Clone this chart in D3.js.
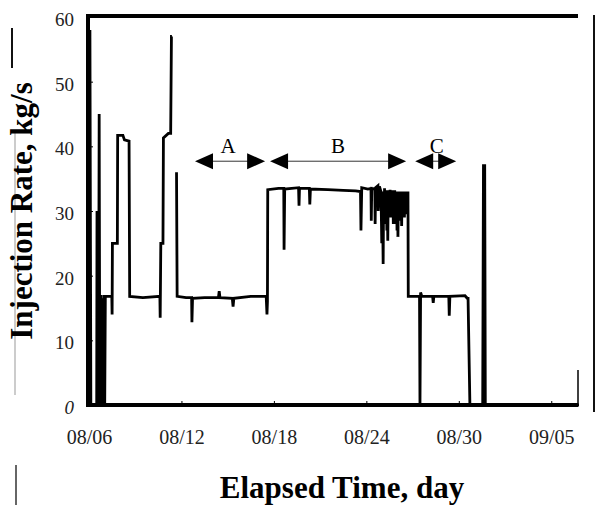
<!DOCTYPE html>
<html>
<head>
<meta charset="utf-8">
<script src="https://cdn.jsdelivr.net/npm/d3@7"></script>
<style>
  body { margin: 0; background: #fff; }
  svg text { font-family: "Liberation Serif", "Times New Roman", serif; }
</style>
</head>
<body>
<svg id="fig" width="595" height="505"></svg>
<script>
// day offset from 08/06 and injection rate (kg/s); null = gap in record
const days = [0, 0.06, 0.12, 0.5, 0.52, 0.55, 0.62, 0.66, 0.7, 0.78, 0.82, 0.88, 0.92, 0.98, 1.02, 1.06,
  1.48, 1.5, 1.52, 1.84, 1.86, 2.2, 2.3, 2.6, 2.64, 3.5, 4.6, 4.62, 4.66, 4.8, 4.83, 5.15, 5.3, 5.35, 5.38,
  null, 5.68, 5.72, 6.3, 6.66, 6.68, 6.72, 7.5, 8.4, 8.45, 8.5, 9.3, 9.35, 9.4, 10.5, 11.5, 11.55, 11.58,
  11.6, 12.3, 12.64, 12.66, 12.7, 13.6, 13.63, 13.66, 14.3, 14.33, 14.37, 15.5, 16.5, 17.3, 17.62, 17.65,
  17.7, 18.1, 18.3, 18.32, 18.35, 18.55, 18.57, 18.6, 18.75, 18.77, 18.85, 18.95,
  19.0, 19.03, 19.06, 19.09, 19.12, 19.15, 19.18, 19.21, 19.24, 19.27, 19.3, 19.33, 19.36, 19.39, 19.42,
  19.45, 19.48, 19.51, 19.54, 19.57, 19.6, 19.63, 19.66, 19.69, 19.72, 19.75, 19.78, 19.81, 19.84, 19.87,
  19.9, 19.93, 19.96, 19.99, 20.02, 20.05, 20.08, 20.11, 20.14, 20.17, 20.2, 20.23, 20.26, 20.29, 20.32,
  20.35, 20.38, 20.41, 20.44, 20.47, 20.5, 20.53, 20.56, 20.59, 20.62, 20.66, 20.7,
  20.72, 21.45, 21.48, 21.52, 21.6, 22.3, 22.34,
  22.38, 23.35, 23.38, 23.42, 24.4, 24.55, 24.6, 24.72, 25.55, 25.6, 25.68, 25.72, 31.8]
const rate = [0, 58, 0, 0, 30, 0, 0, 45, 0, 17, 0, 16.5, 0, 17, 0, 16.8,
  16.8, 14, 25, 25, 41.7, 41.7, 41, 40.8, 16.8, 16.6, 16.8, 13.5, 25, 25, 41.3, 42, 42, 57, 57,
  null, 36, 16.8, 16.6, 16.6, 12.8, 16.5, 16.6, 16.6, 17.6, 16.6, 16.5, 15.2, 16.5, 16.8, 16.8, 14, 16,
  33.3, 33.5, 33.5, 24, 33.4, 33.6, 30.8, 33.5, 33.5, 31, 33.4, 33.3, 33.2, 33.1, 33, 27,
  33.6, 33.4, 33.5, 28.5, 33.5, 33.4, 28, 33.6, 33.9, 30, 33.8, 33,
  25, 33, 29, 21.8, 33, 29, 33.5, 28, 33, 29.5, 33, 27, 33.2, 25.4, 33,
  29, 33, 30, 33.3, 29, 33, 29.5, 33.2, 29, 33, 28, 33, 29, 33.2, 28,
  33, 29, 33, 27, 33, 26, 33, 29, 33, 30, 33, 28.5, 33, 27.7, 33,
  29, 33, 30, 33, 29, 33, 30, 33, 29.5, 33, 30, 33,
  16.8, 16.8, 0, 17.4, 16.8, 16.8, 15.8,
  16.8, 16.8, 13.8, 16.8, 16.9, 16.5, 16.5, 0, 0, 37, 37, 0, 0]

const tickDays = [0, 6, 12, 18, 24, 30]
const tickLabels = ["08/06", "08/12", "08/18", "08/24", "08/30", "09/05"]
const yTicks = [0, 10, 20, 30, 40, 50, 60]

// periods A, B, C marked with arrows
const periodNames = ["A", "B", "C"]
const periodStart = [6.88, 11.75, 21.17]
const periodEnd = [11.43, 20.58, 23.83]
const arrowRate = 37.7

const Fig = d3.select("#fig")
const xScale = d3.scaleLinear().domain([0, 31.8]).range([89, 579])
const yScale = d3.scaleLinear().domain([0, 60]).range([405, 17])

// scan edge marks
Fig.append("line").attr("x1", 594).attr("x2", 594).attr("y1", 15).attr("y2", 412)
  .attr("stroke", "#111").attr("stroke-width", 2)
Fig.append("line").attr("x1", 12).attr("x2", 12).attr("y1", 28).attr("y2", 68)
  .attr("stroke", "#111").attr("stroke-width", 2)
Fig.append("line").attr("x1", 15).attr("x2", 15).attr("y1", 130).attr("y2", 395)
  .attr("stroke", "#999").attr("stroke-width", 1)
Fig.append("line").attr("x1", 16).attr("x2", 16).attr("y1", 465).attr("y2", 505)
  .attr("stroke", "#333").attr("stroke-width", 1.5)

// data line
const pts = days.map((d, i) => d == null ? null : [d, rate[i]])
const line = d3.line()
  .defined(d => d != null)
  .x(d => xScale(d[0]))
  .y(d => yScale(d[1]))
Fig.append("path")
  .datum(pts)
  .attr("d", line)
  .attr("fill", "none")
  .attr("stroke", "#000")
  .attr("stroke-width", 2.8)
  .attr("stroke-linejoin", "miter")

// frame
const x0 = xScale(0) - 1, x1 = xScale(31.8) - 1
Fig.append("line").attr("x1", x0).attr("x2", x0).attr("y1", 14).attr("y2", 407)
  .attr("stroke", "#000").attr("stroke-width", 4)
Fig.append("line").attr("x1", x0 - 2).attr("x2", x1).attr("y1", 16).attr("y2", 16)
  .attr("stroke", "#000").attr("stroke-width", 4)
Fig.append("line").attr("x1", x0 - 2).attr("x2", x1).attr("y1", yScale(0)).attr("y2", yScale(0))
  .attr("stroke", "#000").attr("stroke-width", 4)
Fig.append("line").attr("x1", x1).attr("x2", x1).attr("y1", 370).attr("y2", 405)
  .attr("stroke", "#000").attr("stroke-width", 1.5)

// Y Axis
const y_axis = d3.axisLeft(yScale).tickValues(yTicks).tickSize(-5).tickPadding(14)
  .tickFormat(d => d)
const yAx = Fig.append("g").attr("transform", `translate(${x0},0)`).call(y_axis)
yAx.select(".domain").remove()
yAx.selectAll("line").attr("stroke", "#000")
yAx.selectAll("text")
  .attr("font-size", 19)
  .attr("fill", "#222")
  .attr("dy", "0.45em")
  .style("font-style", d => d === 0 ? "italic" : "normal")

// X Axis
const x_axis = d3.axisBottom(xScale).tickValues(tickDays).tickSize(-4).tickPadding(25)
  .tickFormat((d, i) => tickLabels[i])
const xAx = Fig.append("g").attr("transform", `translate(0,${yScale(0)})`).call(x_axis)
xAx.select(".domain").remove()
xAx.selectAll("line").attr("stroke", "#000")
xAx.selectAll("text").attr("font-size", 20).attr("fill", "#222")

// period arrows
const arrows = Fig.append("g")
periodNames.forEach((name, i) => {
  const xa = xScale(periodStart[i]), xb = xScale(periodEnd[i]), ya = yScale(arrowRate)
  arrows.append("line").attr("x1", xa + 10).attr("x2", xb - 10).attr("y1", ya).attr("y2", ya)
    .attr("stroke", "#333").attr("stroke-width", 1)
  arrows.append("path")
    .attr("d", `M${xa},${ya} L${xa + 18},${ya - 8} L${xa + 18},${ya + 8} Z`).attr("fill", "#000")
  arrows.append("path")
    .attr("d", `M${xb},${ya} L${xb - 18},${ya - 8} L${xb - 18},${ya + 8} Z`).attr("fill", "#000")
  arrows.append("text")
    .attr("x", (xa + xb) / 2 + (i === 2 ? 1 : (i === 0 ? -2 : 0)))
    .attr("y", ya - 8)
    .attr("text-anchor", "middle")
    .attr("font-size", 21)
    .attr("fill", "#000")
    .text(name)
})

// Labels
Fig.append("text")
  .attr("x", 342).attr("y", 498)
  .attr("text-anchor", "middle")
  .attr("font-size", 31).attr("font-weight", "bold")
  .attr("fill", "#000")
  .text("Elapsed Time, day")

Fig.append("g")
  .attr("transform", `translate(32,${211}) rotate(270)`)
  .append("text")
  .attr("text-anchor", "middle")
  .attr("font-size", 31).attr("font-weight", "bold")
  .attr("fill", "#000")
  .text("Injection Rate, kg/s")
</script>
</body>
</html>
